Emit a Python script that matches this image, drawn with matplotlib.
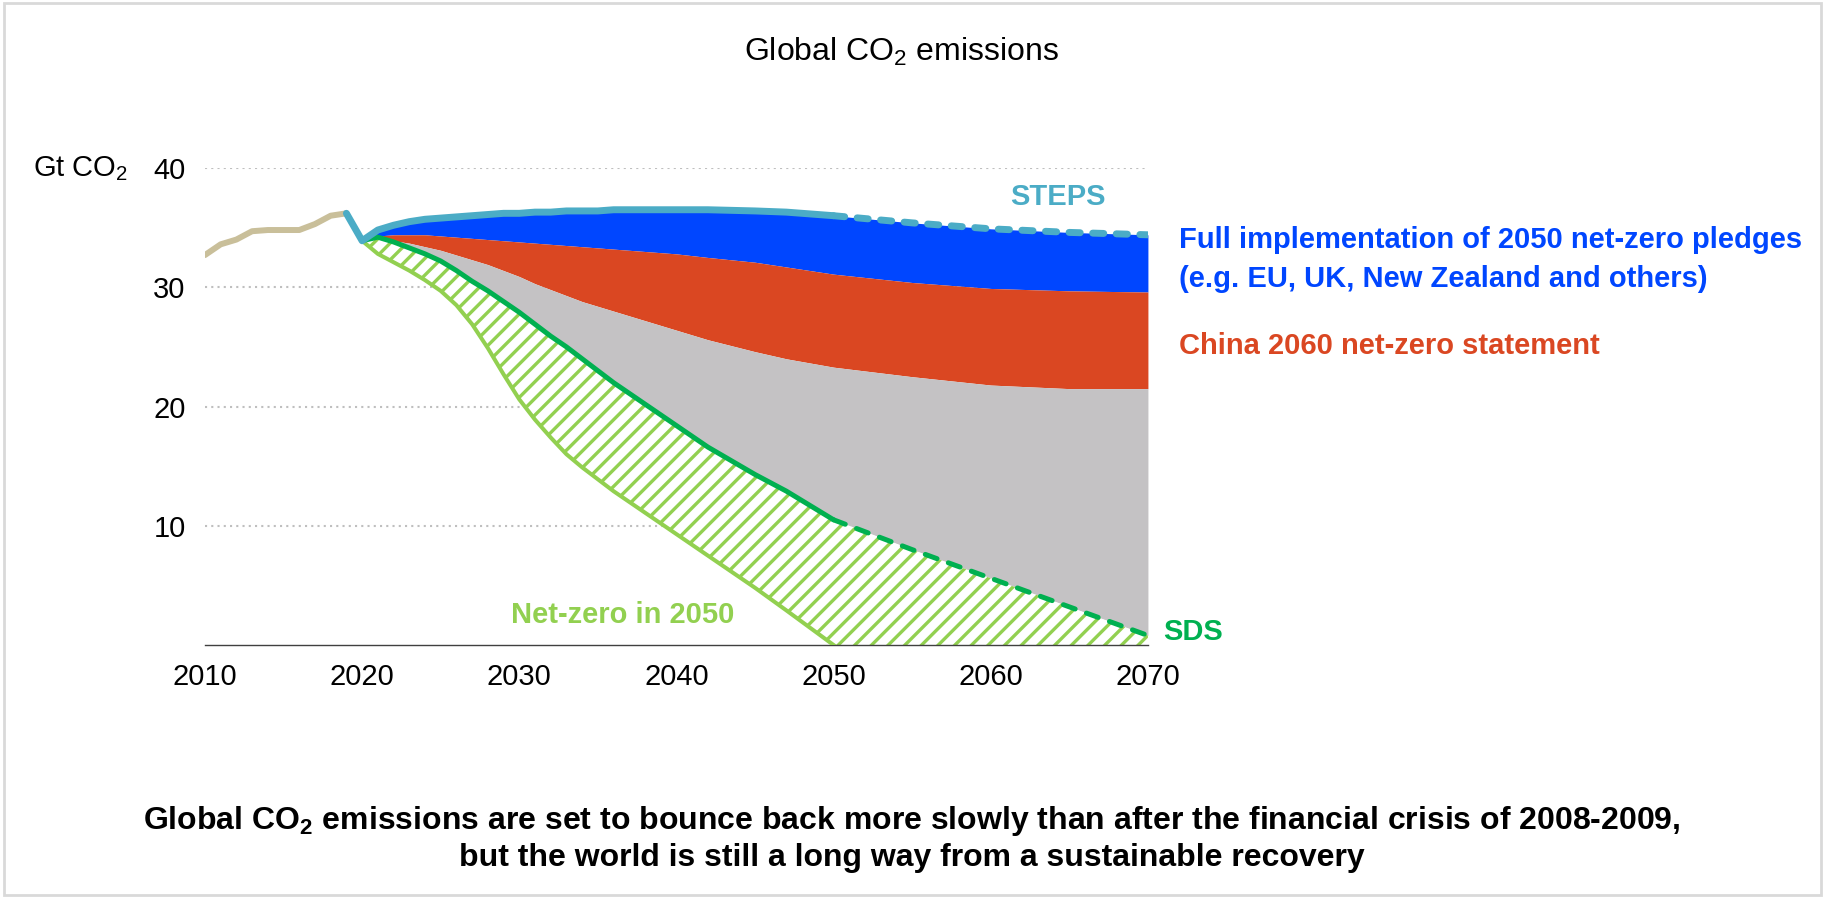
import numpy as np
import matplotlib
matplotlib.use("Agg")
import matplotlib.pyplot as plt
from matplotlib.patches import Rectangle

plt.rcParams.update({
    "font.family": ["Liberation Sans", "DejaVu Sans"],
    "mathtext.default": "regular",
    "hatch.linewidth": 2.4,
})

# historical emissions (Gt CO2)
hist_years = [2010, 2011, 2012, 2013, 2014, 2015, 2016, 2017, 2018, 2019]
hist_vals = [32.7, 33.6, 34.0, 34.7, 34.8, 34.8, 34.8, 35.3, 36.0, 36.2]

# scenario pathways (Gt CO2)
proj_years = [2019, 2020, 2021, 2022, 2023, 2024, 2025, 2026, 2027, 2028, 2029,
              2030, 2031, 2032, 2033, 2034, 2035, 2036, 2037, 2038, 2039, 2040,
              2042, 2045, 2047, 2050, 2055, 2060, 2065, 2070]
steps = [36.2, 33.9, 34.8, 35.2, 35.5, 35.7, 35.8, 35.9, 36.0, 36.1, 36.2,
         36.2, 36.3, 36.3, 36.4, 36.4, 36.4, 36.5, 36.5, 36.5, 36.5, 36.5,
         36.5, 36.4, 36.3, 36.0, 35.4, 34.9, 34.6, 34.4]
pledges = [36.2, 33.9, 34.3, 34.4, 34.4, 34.4, 34.3, 34.2, 34.1, 34.0, 33.9,
           33.8, 33.7, 33.6, 33.5, 33.4, 33.3, 33.2, 33.1, 33.0, 32.9, 32.8,
           32.5, 32.1, 31.7, 31.1, 30.4, 29.9, 29.7, 29.6]
china = [36.2, 33.9, 34.1, 33.9, 33.7, 33.4, 33.1, 32.7, 32.3, 31.9, 31.4,
         30.9, 30.3, 29.8, 29.3, 28.8, 28.4, 28.0, 27.6, 27.2, 26.8, 26.4,
         25.6, 24.6, 24.0, 23.3, 22.5, 21.8, 21.5, 21.5]
sds = [36.2, 33.9, 34.2, 33.8, 33.3, 32.8, 32.2, 31.4, 30.5, 29.7, 28.8,
       27.9, 26.9, 25.9, 25.0, 24.0, 23.0, 22.0, 21.1, 20.2, 19.3, 18.4,
       16.6, 14.3, 12.9, 10.5, 8.0, 5.6, 3.2, 0.8]
nze = [36.2, 33.9, 32.8, 32.1, 31.4, 30.6, 29.7, 28.5, 26.9, 24.9, 22.7,
       20.6, 18.9, 17.4, 16.0, 14.9, 13.9, 12.9, 12.0, 11.1, 10.2, 9.3,
       7.5, 4.8, 2.9, 0.0, 0.0, 0.0, 0.0, 0.0]

x_ticks = [2010, 2020, 2030, 2040, 2050, 2060, 2070]
y_ticks = [10, 20, 30, 40]

C_HIST = "#c9bf9a"
C_STEPS = "#4bacc6"
C_BLUE = "#0046ff"
C_RED = "#da4722"
C_GREY = "#c4c2c4"
C_SDS = "#00b050"
C_NZE = "#92d050"

fig = plt.figure(figsize=(18.25, 8.97), dpi=100)
ax = fig.add_axes([0.1123, 0.2809, 0.5167, 0.5318])

yr = np.array(proj_years)
st, pl, ch, sd, nz = map(np.array, (steps, pledges, china, sds, nze))

# stacked bands
ax.fill_between(yr, pl, st, color=C_BLUE, lw=0, zorder=2)
ax.fill_between(yr, ch, pl, color=C_RED, lw=0, zorder=2)
ax.fill_between(yr, sd, ch, color=C_GREY, lw=0, zorder=2)
ax.fill_between(yr, nz, sd, facecolor="white", edgecolor=C_NZE, hatch="//",
                lw=0, zorder=2)

solid = yr <= 2050
dash = yr >= 2050

ax.plot(hist_years, hist_vals, color=C_HIST, lw=4.3, solid_capstyle="round",
        solid_joinstyle="round", zorder=4)

# net-zero line stops where it reaches zero
ax.plot(yr[solid], nz[solid], color=C_NZE, lw=2.9, solid_joinstyle="round", zorder=4)

ax.plot(yr[solid], sd[solid], color=C_SDS, lw=3.6, solid_capstyle="round",
        solid_joinstyle="round", zorder=5)
ax.plot(yr[dash], sd[dash], color=C_SDS, lw=3.6, dashes=(2.5, 2.4),
        dash_capstyle="round", zorder=5)

ax.plot(yr[solid], st[solid], color=C_STEPS, lw=5, solid_capstyle="round",
        solid_joinstyle="round", zorder=6)
ax.plot(yr[dash], st[dash], color=C_STEPS, lw=5, dashes=(1.6, 1.8),
        dash_capstyle="round", zorder=6)

ax.set_xlim(2010, 2070)
ax.set_ylim(0, 40)
ax.set_xticks(x_ticks)
ax.set_yticks(y_ticks)
ax.tick_params(axis="x", length=0, pad=13, labelsize=21)
ax.tick_params(axis="y", length=0, pad=14, labelsize=21)
ax.grid(axis="y", ls=(0, (1, 2)), lw=1.5, color="#bfbfbf", zorder=0)
for s in ("top", "right", "left"):
    ax.spines[s].set_visible(False)
ax.spines["bottom"].set_color("#404040")
ax.spines["bottom"].set_linewidth(1.0)
ax.set_axisbelow(True)

# series labels
ax.text(2064.3, 37.6, "STEPS", color=C_STEPS, fontsize=21, fontweight="bold",
        ha="center", va="center", clip_on=False)
ax.text(2072.0, 34.0, "Full implementation of 2050 net-zero pledges", color=C_BLUE,
        fontsize=21, fontweight="bold", ha="left", va="center", clip_on=False)
ax.text(2072.0, 30.7, "(e.g. EU, UK, New Zealand and others)", color=C_BLUE,
        fontsize=21, fontweight="bold", ha="left", va="center", clip_on=False)
ax.text(2072.0, 25.1, "China 2060 net-zero statement", color=C_RED,
        fontsize=21, fontweight="bold", ha="left", va="center", clip_on=False)
ax.text(2071.0, 1.1, "SDS", color=C_SDS, fontsize=21, fontweight="bold",
        ha="left", va="center", clip_on=False)
ax.text(2036.6, 2.5, "Net-zero in 2050", color=C_NZE, fontsize=21,
        fontweight="bold", ha="center", va="center", clip_on=False)

fig.text(0.0701, 0.8116, "Gt CO$_2$", fontsize=21, ha="right", va="center")
fig.text(0.494, 0.942, "Global CO$_2$ emissions", fontsize=23, ha="center", va="center")

fig.text(0.4997, 0.0847,
         "Global CO$_2$ emissions are set to bounce back more slowly than after "
         "the financial crisis of 2008-2009,",
         fontsize=23, fontweight="bold", ha="center", va="center")
fig.text(0.4997, 0.0435,
         "but the world is still a long way from a sustainable recovery",
         fontsize=23, fontweight="bold", ha="center", va="center")

# light frame around the slide
fig.patches.append(Rectangle((0.002, 0.002), 0.996, 0.995, transform=fig.transFigure,
                             fill=False, edgecolor="#d9d9d9", lw=2))

fig.savefig("out.png", dpi=100)
